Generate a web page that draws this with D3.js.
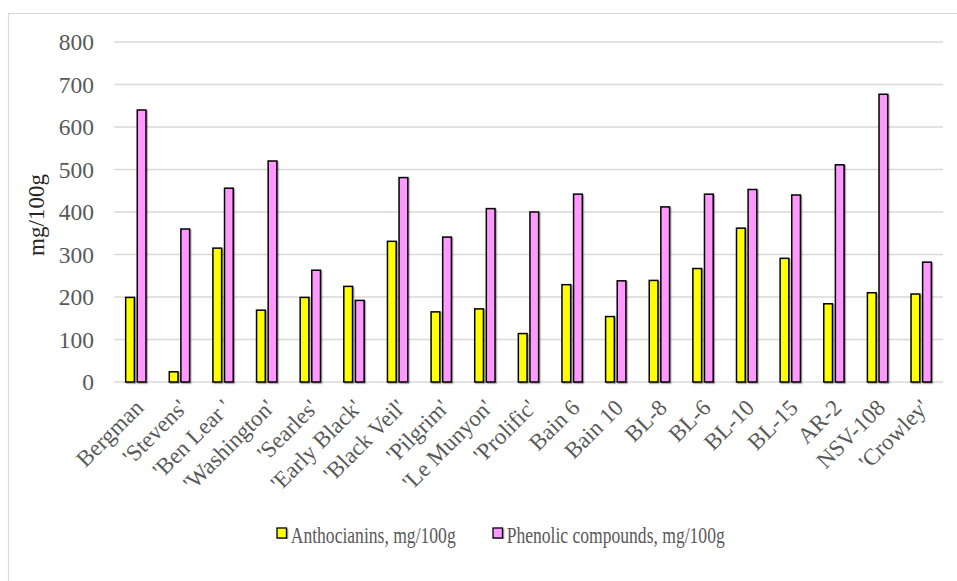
<!DOCTYPE html>
<html>
<head>
<meta charset="utf-8">
<script src="https://cdn.jsdelivr.net/npm/d3@7"></script>
<style>
  html, body { margin: 0; padding: 0; background: #fff; }
  svg { display: block; }
  text { font-family: "Liberation Serif", "Times New Roman", serif; }
</style>
</head>
<body>
<svg id="chart" width="957" height="581"></svg>
<script>
// Cultivars / selections
const categories = ["Bergman", "'Stevens'", "'Ben Lear '", "'Washington'", "'Searles'",
  "'Early Black'", "'Black Veil'", "'Pilgrim'", "'Le Munyon'", "'Prolific'", "Bain 6",
  "Bain 10", "BL-8", "BL-6", "BL-10", "BL-15", "AR-2", "NSV-108", "'Crowley'"];

// mg/100g
const anthocyanins = [199, 24, 315, 169, 199, 225, 331, 165, 172, 114, 229,
  154, 239, 267, 362, 291, 184, 210, 207];
const phenolics = [640, 360, 456, 520, 263, 192, 481, 341, 408, 400, 442,
  238, 412, 442, 453, 440, 511, 677, 282];

const seriesNames = ["Anthocianins, mg/100g", "Phenolic compounds, mg/100g"];
const seriesColors = ["#FFFF00", "#FF99FF"];
const yTicks = [0, 100, 200, 300, 400, 500, 600, 700, 800];

const svg = d3.select("#chart");
const W = 957, H = 581;
const plot = { left: 114, right: 943, top: 42, bottom: 382 };
const serif = "'Liberation Serif', 'Times New Roman', serif";

// drop shadow under the bars
const defs = svg.append("defs");
const f = defs.append("filter").attr("id", "shadow")
  .attr("x", "-30%").attr("y", "-10%").attr("width", "160%").attr("height", "120%");
f.append("feDropShadow").attr("dx", 1.2).attr("dy", 1.2).attr("stdDeviation", 0.6)
  .attr("flood-color", "#000").attr("flood-opacity", 0.35);

// outer chart border
svg.append("rect").attr("x", 8.5).attr("y", 13.5).attr("width", W).attr("height", H)
  .attr("fill", "#fff").attr("stroke", "#d9d9d9").attr("stroke-width", 1.2);

const x = d3.scaleBand().domain(categories).range([plot.left, plot.right])
  .paddingInner(0.5).paddingOuter(0.25);
const xs = d3.scaleBand().domain([0, 1]).range([0, x.bandwidth()]).paddingInner(0.12);
const y = d3.scaleLinear().domain([0, 800]).range([plot.bottom, plot.top]);

// gridlines
svg.append("g").selectAll("line").data(yTicks).join("line")
  .attr("x1", plot.left).attr("x2", plot.right)
  .attr("y1", d => y(d)).attr("y2", d => y(d))
  .attr("stroke", "#d9d9d9").attr("stroke-width", 1.3);

// y axis labels
const yAxis = d3.axisLeft(y).tickValues(yTicks).tickSize(0).tickPadding(20);
const gy = svg.append("g").attr("transform", `translate(${plot.left},0)`).call(yAxis)
  .attr("font-family", serif);
gy.select(".domain").remove();
gy.selectAll("text").attr("font-size", 23.5).attr("fill", "#595959");

// bars
const rows = categories.map((c, i) => ({ c, v: [anthocyanins[i], phenolics[i]] }));
const groups = svg.append("g").selectAll("g").data(rows).join("g")
  .attr("transform", d => `translate(${x(d.c)},0)`);
groups.selectAll("rect").data(d => d.v.map((v, k) => ({ v, k }))).join("rect")
  .attr("x", d => xs(d.k) + 0.75)
  .attr("width", xs.bandwidth() - 1.5)
  .attr("y", d => y(d.v))
  .attr("height", d => y(0) - y(d.v))
  .attr("fill", d => seriesColors[d.k])
  .attr("stroke", "#000").attr("stroke-width", 1.5)
  .attr("filter", "url(#shadow)");

// category labels
const xAxis = d3.axisBottom(x).tickSize(0).tickPadding(0);
const gx = svg.append("g").attr("transform", `translate(0,${plot.bottom})`).call(xAxis)
  .attr("font-family", serif);
gx.select(".domain").remove();
gx.selectAll("text")
  .attr("font-size", 23).attr("fill", "#595959")
  .attr("text-anchor", "end")
  .attr("y", 0).attr("dy", 0)
  .attr("transform", "translate(9,27) rotate(-45)");

// y axis title
svg.append("text")
  .attr("transform", `translate(44,215) rotate(-90)`)
  .attr("text-anchor", "middle")
  .attr("font-size", 23).attr("fill", "#262626")
  .text("mg/100g");

// legend (labels set in a condensed width)
const legX = [277, 493];
const legLen = [165, 218];
const legend = svg.append("g");
seriesNames.forEach((name, k) => {
  const g = legend.append("g").attr("transform", `translate(${legX[k]},528)`);
  g.append("rect").attr("width", 9.5).attr("height", 10)
    .attr("fill", seriesColors[k]).attr("stroke", "#000").attr("stroke-width", 1.3)
    .attr("filter", "url(#shadow)");
  g.append("text").attr("x", 13.7).attr("y", 15)
    .attr("font-size", 24).attr("fill", "#595959")
    .attr("textLength", legLen[k]).attr("lengthAdjust", "spacingAndGlyphs")
    .text(name);
});
</script>
</body>
</html>
